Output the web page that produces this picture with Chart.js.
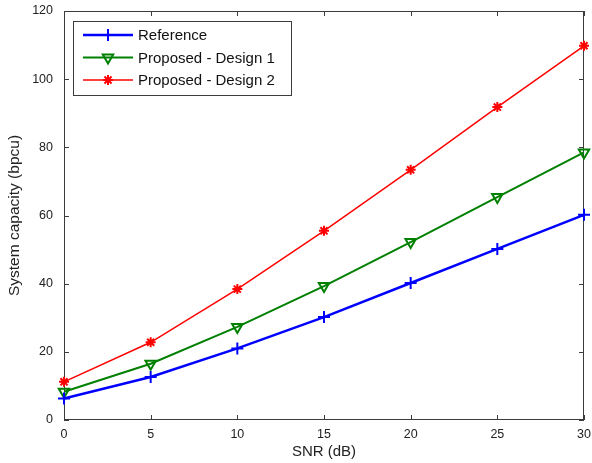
<!DOCTYPE html>
<html>
<head>
<meta charset="utf-8">
<script src="https://cdn.jsdelivr.net/npm/chart.js@4"></script>
<style>
  html, body { margin: 0; padding: 0; background: #fff; }
  #wrap { width: 592px; height: 463px; }
</style>
</head>
<body>
<div id="wrap"><canvas id="capacityChart" width="592" height="463"></canvas></div>
<script>
// SNR points (dB) and capacity per scheme (bpcu)
var snr = [0, 5, 10, 15, 20, 25, 30];
var reference = [6.3, 12.6, 21.0, 30.2, 40.2, 50.2, 60.2];
var design1 = [8.3, 16.5, 27.3, 39.3, 52.2, 65.4, 78.5];
var design2 = [11.2, 22.8, 38.4, 55.5, 73.4, 91.8, 109.8];
var seriesNames = ['Reference', 'Proposed - Design 1', 'Proposed - Design 2'];
var xTicks = [0, 5, 10, 15, 20, 25, 30];
var yTicks = [0, 20, 40, 60, 80, 100, 120];

var axisColor = '#3c3c3c';
var fontFamily = 'Arial, "Liberation Sans", sans-serif';

function toPoints(ys) {
    return snr.map(function(x, i) { return { x: x, y: ys[i] }; });
}

// Draws the matlab style box with inward ticks on all four sides
var boxPlugin = {
    id: 'boxPlugin',
    beforeDatasetsDraw: function(chart) {
        var ctx = chart.ctx, a = chart.chartArea;
        var xs = chart.scales.x, ys = chart.scales.y;
        ctx.save();
        ctx.strokeStyle = axisColor;
        ctx.lineWidth = 1;
        ctx.strokeRect(a.left + 0.5, a.top + 0.5, a.right - a.left - 1, a.bottom - a.top - 1);
        ctx.beginPath();
        xTicks.forEach(function(v) {
            var px = Math.round(xs.getPixelForValue(v)) + 0.5;
            ctx.moveTo(px, a.bottom); ctx.lineTo(px, a.bottom - 5);
            ctx.moveTo(px, a.top); ctx.lineTo(px, a.top + 5);
        });
        yTicks.forEach(function(v) {
            var py = Math.round(ys.getPixelForValue(v)) + 0.5;
            ctx.moveTo(a.left, py); ctx.lineTo(a.left + 5, py);
            ctx.moveTo(a.right, py); ctx.lineTo(a.right - 5, py);
        });
        ctx.stroke();
        ctx.restore();
    }
};

// Legend drawn inside the plot, line sample with marker like matlab
var insideLegend = {
    id: 'insideLegend',
    afterDraw: function(chart) {
        var ctx = chart.ctx;
        var bx = 73.5, by = 21.5, bw = 218, bh = 74;
        ctx.save();
        ctx.fillStyle = '#fff';
        ctx.fillRect(bx, by, bw, bh);
        ctx.strokeStyle = axisColor;
        ctx.lineWidth = 1;
        ctx.strokeRect(bx, by, bw, bh);
        chart.data.datasets.forEach(function(ds, i) {
            var y = 35 + i * 22.5;
            ctx.strokeStyle = ds.borderColor;
            ctx.lineWidth = ds.borderWidth;
            ctx.beginPath();
            ctx.moveTo(83, y); ctx.lineTo(133, y);
            ctx.stroke();
            ctx.fillStyle = 'rgba(0,0,0,0)';
            ctx.lineWidth = ds.pointBorderWidth;
            Chart.helpers.drawPoint(ctx, {
                pointStyle: ds.pointStyle,
                rotation: ds.pointRotation || 0,
                radius: ds.pointRadius,
                borderWidth: ds.pointBorderWidth
            }, 108, y);
            ctx.fillStyle = '#111';
            ctx.font = '15px ' + fontFamily;
            ctx.textBaseline = 'middle';
            ctx.textAlign = 'left';
            ctx.fillText(ds.label, 138, y + 1);
        });
        ctx.restore();
    }
};

window.addEventListener('load', function() {
    var ctx = document.getElementById('capacityChart').getContext('2d');
    new Chart(ctx, {
        type: 'line',
        data: {
            datasets: [{
                label: seriesNames[0],
                data: toPoints(reference),
                borderColor: '#0000ff',
                backgroundColor: 'rgba(0,0,0,0)',
                borderWidth: 2.5,
                pointStyle: 'cross',
                pointRadius: 6,
                pointBorderWidth: 2,
                clip: false
            }, {
                label: seriesNames[1],
                data: toPoints(design1),
                borderColor: '#008000',
                backgroundColor: 'rgba(0,0,0,0)',
                borderWidth: 2,
                pointStyle: 'triangle',
                pointRotation: 180,
                pointRadius: 6,
                pointBorderWidth: 2,
                clip: false
            }, {
                label: seriesNames[2],
                data: toPoints(design2),
                borderColor: '#ff0000',
                backgroundColor: 'rgba(0,0,0,0)',
                borderWidth: 1.5,
                pointStyle: 'star',
                pointRadius: 5,
                pointBorderWidth: 2,
                clip: false
            }]
        },
        options: {
            responsive: false,
            animation: false,
            layout: { padding: { top: 11, right: 7, left: 0, bottom: 0 } },
            plugins: {
                legend: { display: false },
                tooltip: { enabled: false }
            },
            elements: { line: { tension: 0 } },
            scales: {
                x: {
                    type: 'linear',
                    min: 0,
                    max: 30,
                    afterBuildTicks: function(scale) {
                        scale.ticks = xTicks.map(function(v) { return { value: v }; });
                    },
                    afterFit: function(scale) {
                        scale.height = 43;
                        scale.paddingLeft = 0;
                        scale.paddingRight = 0;
                    },
                    grid: { display: false, drawTicks: false },
                    border: { display: false },
                    ticks: {
                        color: '#222',
                        padding: 7,
                        maxRotation: 0,
                        font: { family: fontFamily, size: 12.5 }
                    },
                    title: {
                        display: true,
                        text: 'SNR (dB)',
                        color: '#222',
                        padding: { top: 0, bottom: 2 },
                        font: { family: fontFamily, size: 15 }
                    }
                },
                y: {
                    min: 0,
                    max: 120,
                    afterBuildTicks: function(scale) {
                        scale.ticks = yTicks.map(function(v) { return { value: v }; });
                    },
                    afterFit: function(scale) {
                        scale.width = 64;
                        scale.paddingTop = 0;
                        scale.paddingBottom = 0;
                    },
                    grid: { display: false, drawTicks: false },
                    border: { display: false },
                    ticks: {
                        color: '#222',
                        padding: 11,
                        font: { family: fontFamily, size: 12.5 }
                    },
                    title: {
                        display: true,
                        text: 'System capacity (bpcu)',
                        color: '#222',
                        padding: { top: 5, bottom: 0 },
                        font: { family: fontFamily, size: 15.5 }
                    }
                }
            }
        },
        plugins: [boxPlugin, insideLegend]
    });
});
</script>
</body>
</html>
